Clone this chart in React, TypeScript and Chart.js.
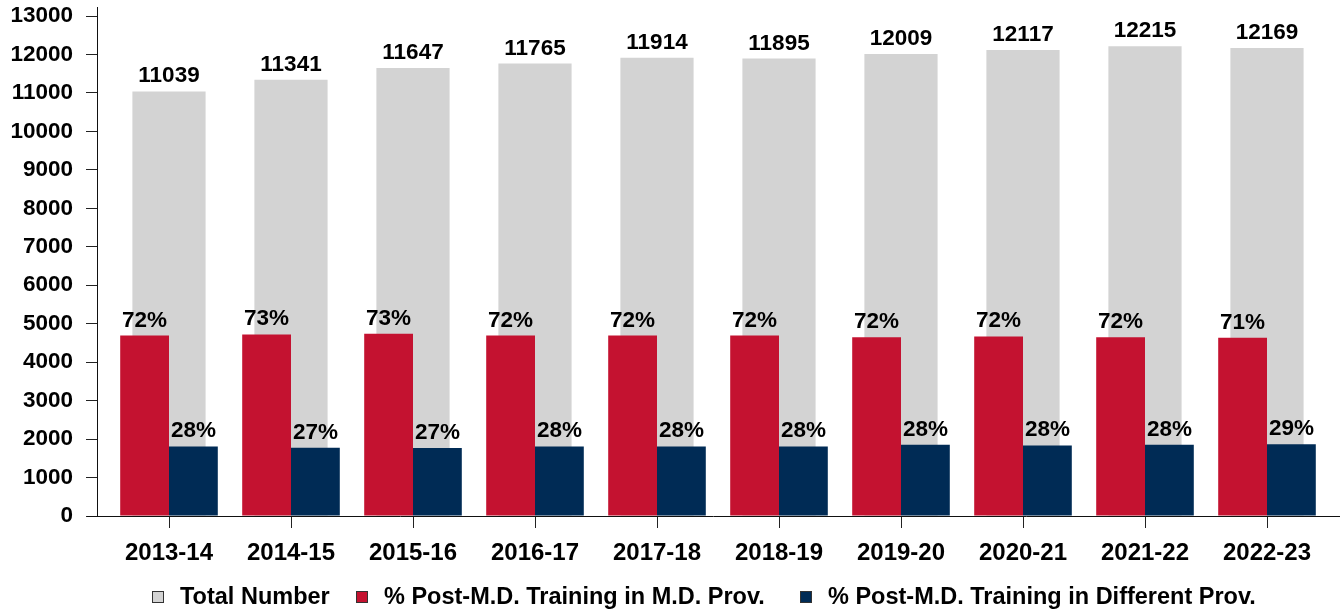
import React, { useEffect, useRef } from 'react';
import { Chart, registerables } from 'chart.js';

Chart.register(...registerables);

const categories = ['2013-14', '2014-15', '2015-16', '2016-17', '2017-18', '2018-19', '2019-20', '2020-21', '2021-22', '2022-23'];
const totalNumber = [11039, 11341, 11647, 11765, 11914, 11895, 12009, 12117, 12215, 12169];
const inProvCount = [4690, 4720, 4740, 4690, 4690, 4690, 4650, 4670, 4650, 4635];
const diffProvCount = [1810, 1775, 1765, 1810, 1810, 1810, 1850, 1835, 1850, 1865];
const inProvPct = [72, 73, 73, 72, 72, 72, 72, 72, 72, 71];
const diffProvPct = [28, 27, 27, 28, 28, 28, 28, 28, 28, 29];
const seriesNames = ['Total Number', '% Post-M.D. Training in M.D. Prov.', '% Post-M.D. Training in Different Prov.'];
const yMin = 0;
const yMax = 13000;
const yStep = 1000;

const FONT = '"Liberation Sans", Arial, Helvetica, sans-serif';

const barLabelPlugin = {
  id: 'barLabels',
  afterDatasetsDraw(chart: any) {
    const ctx = chart.ctx;
    ctx.save();
    ctx.font = `bold 22.5px ${FONT}`;
    ctx.fillStyle = '#000';
    ctx.textAlign = 'center';
    ctx.textBaseline = 'alphabetic';
    chart.data.datasets.forEach((ds: any, di: number) => {
      const meta = chart.getDatasetMeta(di);
      meta.data.forEach((bar: any, i: number) => {
        ctx.fillText(ds.labelTexts[i], bar.x, bar.y - 9);
      });
    });
    ctx.restore();
  },
};

const axisLinePlugin = {
  id: 'axisLines',
  afterDraw(chart: any) {
    const ctx = chart.ctx;
    const y = chart.scales.y;
    const y0 = Math.round(y.getPixelForValue(0)) + 0.5;
    const xLeft = Math.round(y.right) - 0.5;
    ctx.save();
    ctx.strokeStyle = '#111';
    ctx.lineWidth = 1;
    ctx.beginPath();
    ctx.moveTo(xLeft, 7);
    ctx.lineTo(xLeft, y0);
    ctx.moveTo(87, y0);
    ctx.lineTo(chart.width, y0);
    ctx.stroke();
    ctx.restore();
  },
};

const legendPlugin = {
  id: 'customLegend',
  afterDraw(chart: any) {
    const ctx = chart.ctx;
    const starts = [152, 356, 800];
    const cy = 597;
    ctx.save();
    ctx.font = `bold 23.5px ${FONT}`;
    ctx.textBaseline = 'middle';
    ctx.textAlign = 'left';
    chart.data.datasets.forEach((ds: any, i: number) => {
      const x = starts[i];
      ctx.fillStyle = ds.backgroundColor;
      ctx.fillRect(x, cy - 6, 12, 12);
      ctx.strokeStyle = '#333';
      ctx.lineWidth = 1;
      ctx.strokeRect(x + 0.5, cy - 5.5, 11, 11);
      ctx.fillStyle = '#000';
      ctx.fillText(ds.label, x + 28, cy + 1);
    });
    ctx.restore();
  },
};

export default function App() {
  const canvasRef = useRef<HTMLCanvasElement | null>(null);

  useEffect(() => {
    if (!canvasRef.current) return;
    const chart = new Chart(canvasRef.current, {
      type: 'bar',
      data: {
        labels: categories,
        datasets: [
          {
            label: seriesNames[0],
            data: totalNumber,
            backgroundColor: '#D3D3D3',
            grouped: false,
            order: 1,
            categoryPercentage: 1,
            barPercentage: 0.6,
            labelTexts: totalNumber.map((v) => String(v)),
          } as any,
          {
            label: seriesNames[1],
            data: inProvCount,
            backgroundColor: '#C41230',
            order: 0,
            categoryPercentage: 0.8,
            barPercentage: 1,
            labelTexts: inProvPct.map((v) => `${v}%`),
          } as any,
          {
            label: seriesNames[2],
            data: diffProvCount,
            backgroundColor: '#002B55',
            order: 0,
            categoryPercentage: 0.8,
            barPercentage: 1,
            labelTexts: diffProvPct.map((v) => `${v}%`),
          } as any,
        ],
      },
      options: {
        responsive: false,
        animation: false,
        layout: { padding: { top: 16, right: 12, bottom: 0, left: 0 } },
        plugins: {
          legend: { display: false },
          tooltip: { enabled: false },
        },
        scales: {
          x: {
            offset: true,
            grid: { display: true, drawOnChartArea: false, drawTicks: true, tickLength: 12, offset: false, color: '#222' },
            border: { display: false },
            ticks: { font: { family: FONT, size: 24, weight: 'bold' }, color: '#000', padding: 11, maxRotation: 0, autoSkip: false },
            afterFit: (s: any) => { s.height = 99; },
          },
          y: {
            type: 'linear',
            position: 'left',
            weight: 2,
            min: yMin,
            max: yMax,
            ticks: {
              stepSize: yStep,
              font: { family: FONT, size: 22.5, weight: 'bold' },
              color: '#000',
              padding: 13,
              callback: (v: any) => String(v),
            },
            grid: { display: true, drawOnChartArea: false, drawTicks: true, tickLength: 12, color: '#222' },
            border: { display: false },
            afterFit: (s: any) => {
              s.width = 98;
              s.paddingTop = 8;
              s.paddingBottom = 0;
            },
          },
          gap: {
            type: 'linear',
            position: 'left',
            weight: 1,
            display: true,
            grid: { display: false },
            border: { display: false },
            ticks: { display: false },
            afterFit: (s: any) => {
              s.width = 10;
              s.paddingTop = 0;
              s.paddingBottom = 0;
            },
          },
        },
      } as any,
      plugins: [barLabelPlugin, axisLinePlugin, legendPlugin],
    });
    return () => chart.destroy();
  }, []);

  return (
    <div style={{ position: 'fixed', left: 0, top: 0, width: 1340, height: 615, background: '#fff' }}>
      <canvas ref={canvasRef} width={1340} height={615} style={{ display: 'block', width: 1340, height: 615 }} />
    </div>
  );
}
